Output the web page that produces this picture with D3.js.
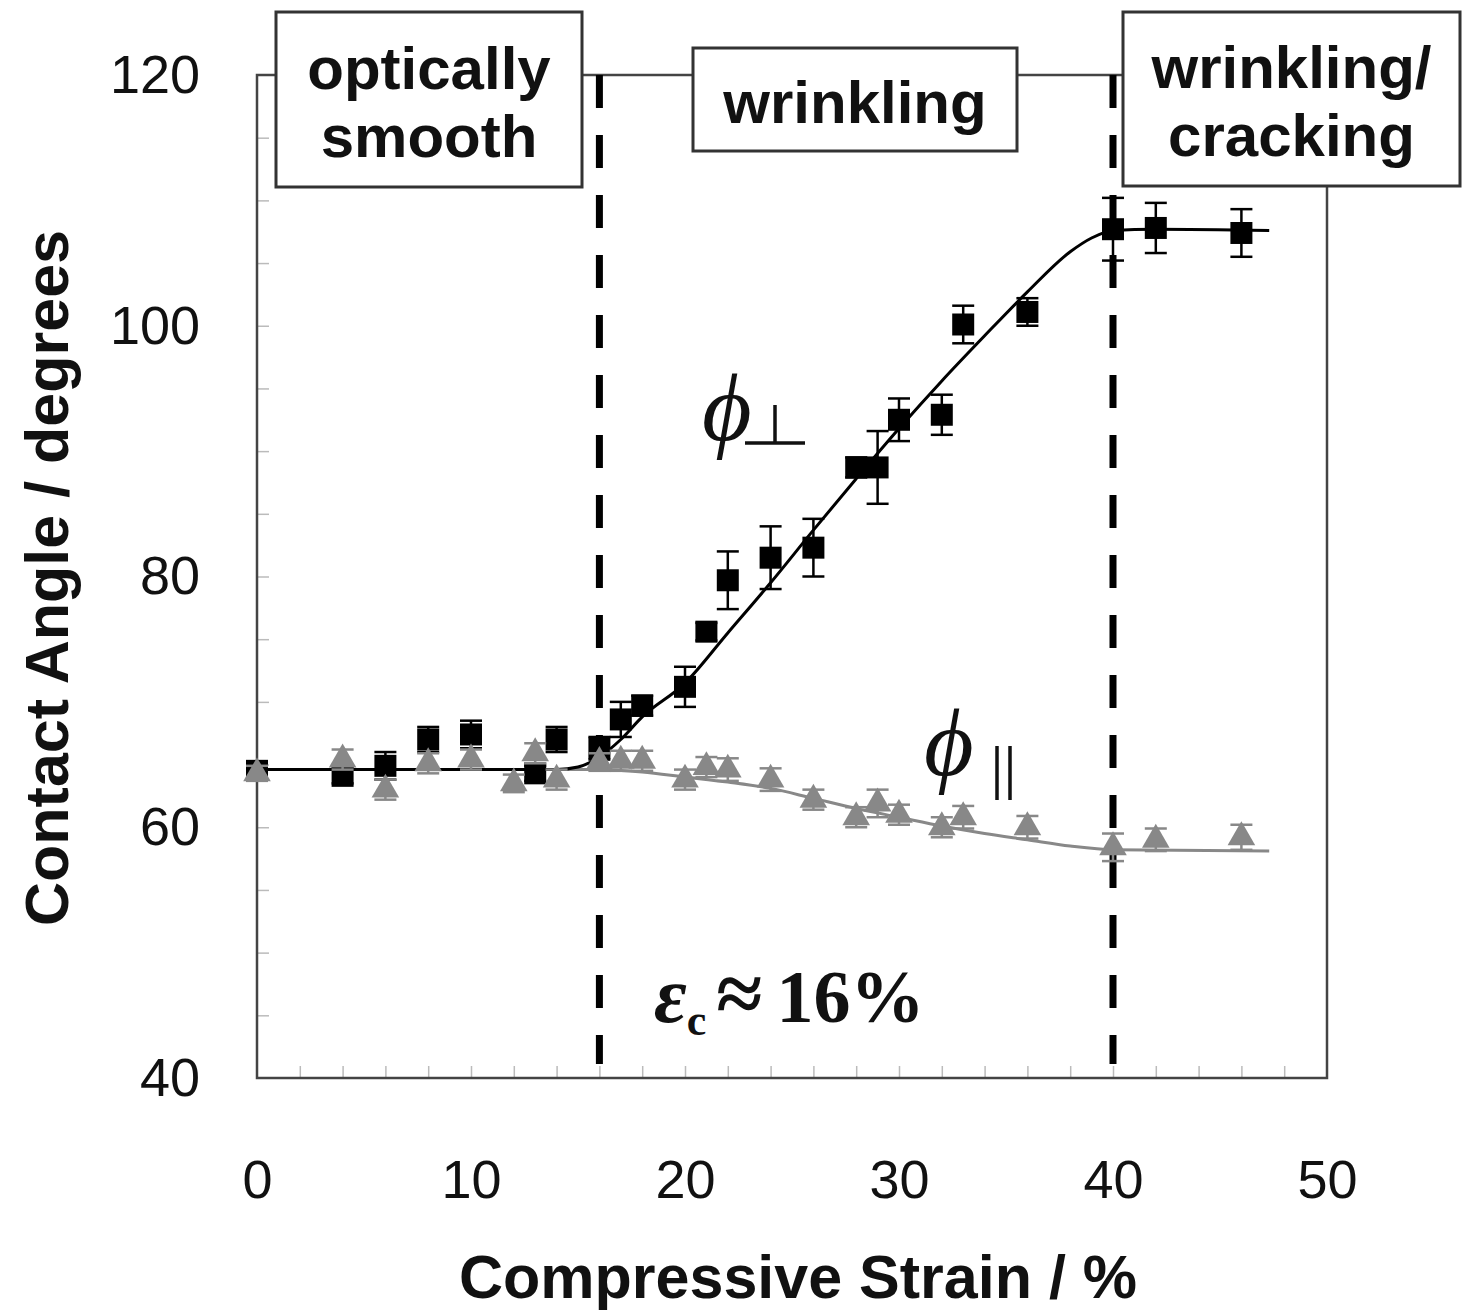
<!DOCTYPE html>
<meta charset="utf-8">
<head>
    <title>Contact angle vs compressive strain</title>
    <script type="text/javascript" src="https://cdn.jsdelivr.net/npm/d3@7"></script>
    <style>
        body { margin: 0; background: #fff; }
        text { font-family: "Liberation Sans", Arial, sans-serif; fill: #111; }
        .serif { font-family: "Liberation Serif", "Times New Roman", serif; }
    </style>
</head>
<body>
<script>
    // data
    var strainSq = [0, 4, 6, 8, 10, 13, 14, 16, 17, 18, 20, 21, 22, 24, 26, 28, 29, 30, 32, 33, 36, 40, 42, 46];
    var angleSq  = [64.5, 64.1, 64.9, 67.0, 67.4, 64.3, 67.0, 66.3, 68.6, 69.7, 71.2, 75.6, 79.7, 81.5, 82.3, 88.7, 88.7, 92.5, 92.9, 100.1, 101.1, 107.7, 107.8, 107.4];
    var errSq    = [0.4, 0.6, 1.1, 1.0, 1.1, 0.6, 1.0, 0.9, 1.4, 0.8, 1.6, 0.7, 2.3, 2.5, 2.3, 0.8, 2.9, 1.7, 1.6, 1.5, 1.1, 2.5, 2.0, 1.9];

    var strainTri = [0, 4, 6, 8, 10, 12, 13, 14, 16, 17, 18, 20, 21, 22, 24, 26, 28, 29, 30, 32, 33, 36, 40, 42, 46];
    var angleTri  = [64.3, 65.4, 63.0, 65.1, 65.4, 63.5, 65.9, 63.8, 65.2, 65.3, 65.3, 63.8, 64.8, 64.6, 63.8, 62.2, 60.8, 61.9, 61.0, 60.0, 60.8, 60.0, 58.4, 59.0, 59.2];
    var errTri    = [0.6, 0.8, 0.8, 0.8, 0.8, 0.7, 0.8, 0.8, 0.7, 0.8, 0.8, 0.8, 0.8, 0.9, 0.9, 0.8, 0.8, 1.1, 0.8, 0.8, 0.9, 0.9, 1.1, 0.9, 1.0];

    // fitted curves
    var fitX    = [0, 14, 15, 16, 17, 18, 20, 22, 24, 26, 28, 30, 32, 34, 36, 38, 39, 40, 42, 47.3];
    var fitPerp = [64.6, 64.6, 64.8, 65.6, 67.0, 68.8, 71.5, 75.5, 79.5, 83.7, 87.8, 91.8, 95.6, 99.2, 102.7, 105.9, 107.0, 107.6, 107.7, 107.6];
    var fitParX = [0, 16, 18, 20, 22, 24, 26, 28, 30, 32, 34, 36, 38, 40, 47.3];
    var fitPar  = [64.6, 64.6, 64.4, 64.0, 63.6, 63.1, 62.3, 61.5, 60.8, 60.1, 59.5, 59.0, 58.5, 58.2, 58.1];

    var xTicks = [0, 10, 20, 30, 40, 50];
    var yTicks = [40, 60, 80, 100, 120];
    var transitions = [16, 40];

    var regions = [
        {lines: ["optically", "smooth"], x0: 276, x1: 582, y0: 12, y1: 187},
        {lines: ["wrinkling"], x0: 693, x1: 1017, y0: 48, y1: 151},
        {lines: ["wrinkling/", "cracking"], x0: 1123, x1: 1460, y0: 12, y1: 186}
    ];

    var width = 1463, height = 1310;
    var svg = d3.select('body').append('svg')
        .attr('width', width)
        .attr('height', height);

    var x = d3.scaleLinear().domain([0, 50]).range([257, 1327]);
    var y = d3.scaleLinear().domain([40, 120]).range([1078, 75]);

    // minor ticks inside the frame
    svg.append('g')
        .attr('transform', 'translate(0,' + y(40) + ')')
        .call(d3.axisBottom(x).tickValues(d3.range(2, 50, 2)).tickSize(-12).tickFormat(''))
        .call(g => g.select('.domain').remove())
        .selectAll('line').attr('stroke', '#bbb').attr('stroke-width', 1.5);
    svg.append('g')
        .attr('transform', 'translate(' + x(0) + ',0)')
        .call(d3.axisLeft(y).tickValues(d3.range(45, 120, 5)).tickSize(-12).tickFormat(''))
        .call(g => g.select('.domain').remove())
        .selectAll('line').attr('stroke', '#bbb').attr('stroke-width', 1.5);

    // frame
    svg.append('rect')
        .attr('x', x(0)).attr('y', y(120))
        .attr('width', x(50) - x(0)).attr('height', y(40) - y(120))
        .attr('fill', 'none').attr('stroke', '#444').attr('stroke-width', 2.5);

    // tick labels
    var xa = svg.append('g')
        .attr('transform', 'translate(0,' + y(40) + ')')
        .call(d3.axisBottom(x).tickValues(xTicks).tickSize(0).tickPadding(82));
    xa.select('.domain').remove();
    xa.selectAll('text').attr('font-size', 54).attr('font-family', '"Liberation Sans", Arial, sans-serif').attr('fill', '#111');

    var ya = svg.append('g')
        .attr('transform', 'translate(' + x(0) + ',0)')
        .call(d3.axisLeft(y).tickValues(yTicks).tickSize(0).tickPadding(57));
    ya.select('.domain').remove();
    ya.selectAll('text').attr('font-size', 54).attr('font-family', '"Liberation Sans", Arial, sans-serif').attr('fill', '#111');

    // axis titles
    svg.append('text')
        .attr('x', 798).attr('y', 1298)
        .attr('text-anchor', 'middle')
        .attr('font-size', 61).attr('font-weight', 'bold')
        .text('Compressive Strain / %');
    svg.append('text')
        .attr('transform', 'translate(68,578) rotate(-90)')
        .attr('text-anchor', 'middle')
        .attr('font-size', 61).attr('font-weight', 'bold')
        .text('Contact Angle / degrees');

    // dashed transition lines
    svg.selectAll('.trans')
        .data(transitions)
        .enter().append('line')
        .attr('x1', d => x(d)).attr('x2', d => x(d))
        .attr('y1', y(120)).attr('y2', 1064)
        .attr('stroke', '#000').attr('stroke-width', 7)
        .attr('stroke-dasharray', '33,27');

    // fitted curves
    var line = d3.line().curve(d3.curveMonotoneX).x(d => x(d[0])).y(d => y(d[1]));
    svg.append('path')
        .datum(fitParX.map((v, i) => [v, fitPar[i]]))
        .attr('d', line).attr('fill', 'none').attr('stroke', '#888').attr('stroke-width', 3);
    svg.append('path')
        .datum(fitX.map((v, i) => [v, fitPerp[i]]))
        .attr('d', line).attr('fill', 'none').attr('stroke', '#000').attr('stroke-width', 3);

    function drawSeries(xs, ys, es, color, symbolType, size) {
        var data = xs.map((v, i) => ({x: v, y: ys[i], e: es[i]}));
        var g = svg.append('g');
        var eb = g.selectAll('.eb').data(data).enter().append('g')
            .attr('stroke', color).attr('stroke-width', 2.5);
        eb.append('line')
            .attr('x1', d => x(d.x)).attr('x2', d => x(d.x))
            .attr('y1', d => y(d.y + d.e)).attr('y2', d => y(d.y - d.e));
        eb.append('line')
            .attr('x1', d => x(d.x) - 11).attr('x2', d => x(d.x) + 11)
            .attr('y1', d => y(d.y + d.e)).attr('y2', d => y(d.y + d.e));
        eb.append('line')
            .attr('x1', d => x(d.x) - 11).attr('x2', d => x(d.x) + 11)
            .attr('y1', d => y(d.y - d.e)).attr('y2', d => y(d.y - d.e));
        g.selectAll('.pt').data(data).enter().append('path')
            .attr('transform', d => 'translate(' + x(d.x) + ',' + y(d.y) + ')')
            .attr('d', d3.symbol().type(symbolType).size(size))
            .attr('fill', color);
    }
    drawSeries(strainSq, angleSq, errSq, '#000', d3.symbolSquare, 484);
    drawSeries(strainTri, angleTri, errTri, '#888', d3.symbolTriangle, 330);

    // region boxes
    var box = svg.selectAll('.region').data(regions).enter().append('g');
    box.append('rect')
        .attr('x', d => d.x0).attr('y', d => d.y0)
        .attr('width', d => d.x1 - d.x0).attr('height', d => d.y1 - d.y0)
        .attr('fill', '#fff').attr('stroke', '#333').attr('stroke-width', 3);
    box.each(function(d) {
        var cx = (d.x0 + d.x1) / 2, cy = (d.y0 + d.y1) / 2;
        var n = d.lines.length, lh = 68;
        d3.select(this).selectAll('text').data(d.lines).enter().append('text')
            .attr('x', cx)
            .attr('y', (t, i) => cy + (i - (n - 1) / 2) * lh + 23)
            .attr('text-anchor', 'middle')
            .attr('font-size', 60).attr('font-weight', 'bold')
            .text(t => t);
    });

    // phi labels
    svg.append('text').attr('class', 'serif')
        .attr('x', 702).attr('y', 440)
        .attr('font-size', 96).attr('font-style', 'italic')
        .text('\u03d5');
    // perpendicular sign
    var perp = svg.append('g').attr('stroke', '#111').attr('stroke-width', 3.5);
    perp.append('line').attr('x1', 745).attr('x2', 805).attr('y1', 443).attr('y2', 443);
    perp.append('line').attr('x1', 775).attr('x2', 775).attr('y1', 405).attr('y2', 443);

    svg.append('text').attr('class', 'serif')
        .attr('x', 924).attr('y', 775)
        .attr('font-size', 96).attr('font-style', 'italic')
        .text('\u03d5');
    var par = svg.append('g').attr('stroke', '#111').attr('stroke-width', 3.5);
    par.append('line').attr('x1', 997).attr('x2', 997).attr('y1', 746).attr('y2', 800);
    par.append('line').attr('x1', 1010).attr('x2', 1010).attr('y1', 746).attr('y2', 800);

    // critical strain label
    var ec = svg.append('text').attr('class', 'serif')
        .attr('x', 654).attr('y', 1022)
        .attr('font-size', 74).attr('font-weight', 'bold');
    ec.append('tspan').attr('font-style', 'italic').attr('font-size', 80).text('\u03b5');
    ec.append('tspan').attr('font-size', 44).attr('dy', 13).text('c');
    ec.append('tspan').attr('dy', -13).attr('dx', 10).attr('font-size', 84).text('\u2248');
    ec.append('tspan').attr('dx', 14).text('16%');
</script>
</body>
</html>
